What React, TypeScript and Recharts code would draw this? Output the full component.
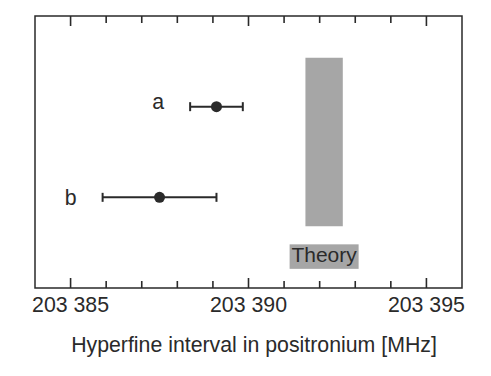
import {
  ComposedChart,
  Scatter,
  ErrorBar,
  XAxis,
  YAxis,
  ReferenceArea,
  Label,
} from "recharts";

// measurements (MHz) and their rows
const labels = ["a", "b"];
const values = [203389.1, 203387.5];
const errors = [0.74, 1.6];
const rows = [2, 1];

// theory band
const theoryLow = 203391.6;
const theoryHigh = 203392.65;
const theoryRowLow = 0.68;
const theoryRowHigh = 2.54;

const xDomain = [203384, 203396];
const yDomain = [0, 3];
const ticks = [
  203385, 203386, 203387, 203388, 203389, 203390, 203391, 203392, 203393,
  203394, 203395,
];
const majorTicks = [203385, 203390, 203395];

const INK = "#2a2a2a";
const GREY = "#a6a6a6";
const FONT = "'Liberation Sans', Arial, Helvetica, sans-serif";

const points = values.map((v, i) => ({
  x: v,
  y: rows[i],
  err: errors[i],
  name: labels[i],
}));

// letter labels sit a little left of each error bar's left end
const labelPoints = values.map((v, i) => ({
  x: v - errors[i] - 0.9,
  y: rows[i],
  name: labels[i],
}));
const labelDy = [2, 8];

function fmt(v: number) {
  return `${Math.floor(v / 1000)} ${String(v % 1000).padStart(3, "0")}`;
}

const tickLen = (v: number) => (majorTicks.includes(v) ? 10 : 7);

// bottom edge: inward tick + number
function BottomTick({ x, y, payload }: any) {
  const major = majorTicks.includes(payload.value);
  return (
    <g>
      <line x1={x} x2={x} y1={y} y2={y - tickLen(payload.value)} stroke={INK} strokeWidth={1.6} />
      {major && (
        <text
          x={x}
          y={y + 24}
          textAnchor="middle"
          fill={INK}
          fontSize={21.3}
          fontFamily={FONT}
        >
          {fmt(payload.value)}
        </text>
      )}
    </g>
  );
}

// top edge ticks, placed along the frame's own box
function TopTicks({ viewBox }: any) {
  const { x, y, width } = viewBox;
  const span = xDomain[1] - xDomain[0];
  return (
    <g>
      {ticks.map((t) => {
        const tx = x + ((t - xDomain[0]) / span) * width;
        return (
          <line
            key={t}
            x1={tx}
            x2={tx}
            y1={y}
            y2={y + tickLen(t)}
            stroke={INK}
            strokeWidth={1.6}
          />
        );
      })}
    </g>
  );
}

function Dot({ cx, cy }: any) {
  return <circle cx={cx} cy={cy} r={5.5} fill={INK} />;
}

function Letter({ cx, cy, payload, index }: any) {
  return (
    <text
      x={cx}
      y={cy + (labelDy[index] ?? 4)}
      textAnchor="middle"
      fill={INK}
      fontSize={21.3}
      fontFamily={FONT}
    >
      {payload.name}
    </text>
  );
}

function TheoryLabel({ viewBox }: any) {
  const { x, y, width, height } = viewBox;
  const cx = x + width / 2;
  const top = y + height + 18;
  return (
    <g>
      <rect x={cx - 34.5} y={top} width={69} height={24.5} fill={GREY} />
      <text
        x={cx}
        y={top + 17.5}
        textAnchor="middle"
        fill={INK}
        fontSize={21}
        fontFamily={FONT}
      >
        Theory
      </text>
    </g>
  );
}

function AxisTitle({ viewBox }: any) {
  const { x, y, width } = viewBox;
  return (
    <text
      x={x + width / 2 + 5.5}
      y={y + 64}
      textAnchor="middle"
      fill={INK}
      fontSize={21.3}
      fontFamily={FONT}
    >
      Hyperfine interval in positronium [MHz]
    </text>
  );
}

export default function App() {
  return (
    <div style={{ position: "absolute", left: 0, top: 0, background: "#fff" }}>
      <ComposedChart
        width={491}
        height={376}
        margin={{ top: 16, right: 29, left: 35, bottom: 18 }}
      >
        <XAxis
          type="number"
          dataKey="x"
          domain={xDomain}
          ticks={ticks}
          interval={0}
          height={70}
          tickSize={0}
          tickMargin={0}
          tickLine={false}
          axisLine={false}
          tick={<BottomTick />}
        >
          <Label content={<AxisTitle />} />
        </XAxis>
        <YAxis type="number" dataKey="y" domain={yDomain} hide />
        {/* plot frame */}
        <ReferenceArea
          x1={xDomain[0]}
          x2={xDomain[1]}
          y1={yDomain[0]}
          y2={yDomain[1]}
          fill="none"
          stroke={INK}
          strokeWidth={1.5}
          label={<TopTicks />}
        />
        <ReferenceArea
          x1={theoryLow}
          x2={theoryHigh}
          y1={theoryRowLow}
          y2={theoryRowHigh}
          fill={GREY}
          fillOpacity={1}
          stroke="none"
          label={<TheoryLabel />}
        />
        <Scatter data={points} shape={<Dot />} isAnimationActive={false}>
          <ErrorBar
            dataKey="err"
            direction="x"
            width={4.5}
            stroke={INK}
            strokeWidth={2}
          />
        </Scatter>
        <Scatter data={labelPoints} shape={<Letter />} isAnimationActive={false} />
      </ComposedChart>
    </div>
  );
}
